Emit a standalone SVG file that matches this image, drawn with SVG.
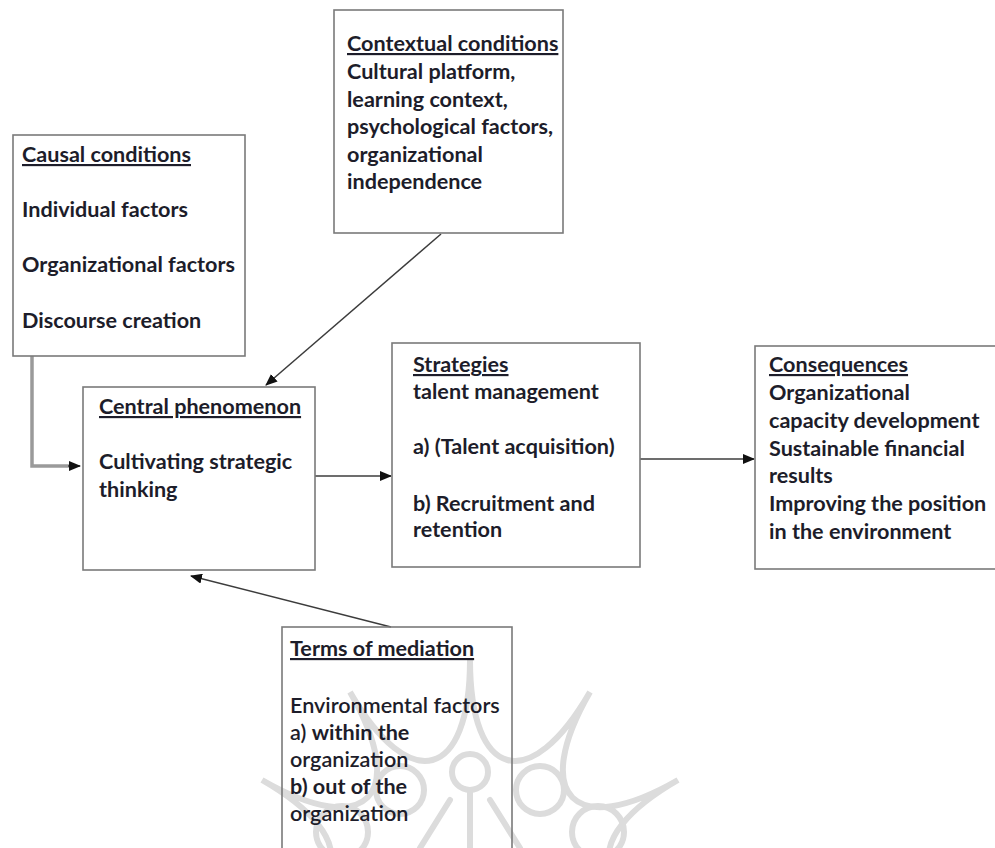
<svg xmlns="http://www.w3.org/2000/svg" width="995" height="848" viewBox="0 0 995 848">
<defs>
<style>
.box{fill:none;stroke:#7a7a7a;stroke-width:1.6}
.t{font-family:Lato,"Open Sans","Liberation Sans",sans-serif;font-size:21.6px;font-weight:bold;fill:#1d1d2a}
.n{font-weight:600}
.h{text-decoration:underline}
.c{fill:none;stroke:#3c3c3c;stroke-width:1.5}
.wm{fill:none;stroke:#dcdcdc;stroke-width:6;stroke-linecap:round}
</style>
<marker id="ah" markerWidth="12" markerHeight="10" refX="11" refY="5" orient="auto" markerUnits="userSpaceOnUse">
<path d="M0,0 L12,5 L0,10 Z" fill="#111"/>
</marker>
</defs>
<rect width="995" height="848" fill="#fff"/>
<g id="watermark">
<path class="wm" d="M230,900 C350,900 366,840 262,780 C366,840 410,796 350,692 C410,796 470,780 470,660 C470,780 530,796 590,692 C530,796 574,840 678,780 C574,840 590,900 710,900"/>
<circle class="wm" cx="470" cy="772" r="18"/>
<circle class="wm" cx="540" cy="790" r="24"/>
<circle class="wm" cx="400" cy="790" r="24"/>
<circle class="wm" cx="598" cy="832" r="26"/>
<circle class="wm" cx="342" cy="832" r="26"/>
<path class="wm" d="M470,790 L470,848 M490,800 L520,848 M450,800 L420,848"/>
</g>
<g id="connectors">
<path d="M32,356 V466 H70" fill="none" stroke="#9a9a9a" stroke-width="3.5"/>
<path class="c" d="M68,466 H80" marker-end="url(#ah)"/>
<path class="c" d="M441,234 L266,385" marker-end="url(#ah)"/>
<path class="c" d="M315,476 H391" marker-end="url(#ah)"/>
<path class="c" d="M640,459 H754" marker-end="url(#ah)"/>
<path class="c" d="M391,627 L191,576" marker-end="url(#ah)"/>
</g>
<g id="contextual">
<rect class="box" x="334" y="10" width="229" height="223"/>
<text class="t" x="347" y="51"><tspan class="h">Contextual conditions</tspan></text>
<text class="t" x="347" y="79">Cultural platform,</text>
<text class="t" x="347" y="107">learning context,</text>
<text class="t" x="347" y="134">psychological factors,</text>
<text class="t" x="347" y="162">organizational</text>
<text class="t" x="347" y="189">independence</text>
</g>
<g id="causal">
<rect class="box" x="13" y="135" width="232" height="221"/>
<text class="t" x="22" y="162"><tspan class="h">Causal conditions</tspan></text>
<text class="t" x="22" y="217">Individual factors</text>
<text class="t" x="22" y="272">Organizational factors</text>
<text class="t" x="22" y="328">Discourse creation</text>
</g>
<g id="central">
<rect class="box" x="83" y="387" width="232" height="183"/>
<text class="t" x="99" y="414"><tspan class="h">Central phenomenon</tspan></text>
<text class="t" x="99" y="469">Cultivating strategic</text>
<text class="t" x="99" y="497">thinking</text>
</g>
<g id="strategies">
<rect class="box" x="392" y="343" width="248" height="224"/>
<text class="t" x="413" y="372"><tspan class="h">Strategies</tspan></text>
<text class="t" x="413" y="399">talent management</text>
<text class="t" x="413" y="454">a) (Talent acquisition)</text>
<text class="t" x="413" y="511">b) Recruitment and</text>
<text class="t" x="413" y="537">retention</text>
</g>
<g id="consequences">
<rect class="box" x="755" y="346" width="260" height="223"/>
<text class="t" x="769" y="372"><tspan class="h">Consequences</tspan></text>
<text class="t" x="769" y="400">Organizational</text>
<text class="t" x="769" y="428">capacity development</text>
<text class="t" x="769" y="456">Sustainable financial</text>
<text class="t" x="769" y="483">results</text>
<text class="t" x="769" y="511">Improving the position</text>
<text class="t" x="769" y="539">in the environment</text>
</g>
<g id="mediation">
<rect class="box" x="282" y="627" width="230" height="240"/>
<text class="t" x="290" y="656"><tspan class="h">Terms of mediation</tspan></text>
<text class="t n" x="290" y="713">Environmental factors</text>
<text class="t n" x="290" y="740">a) <tspan font-weight="bold">within the</tspan></text>
<text class="t n" x="290" y="767">organization</text>
<text class="t" x="290" y="794">b) out of the</text>
<text class="t n" x="290" y="821">organization</text>
</g>
</svg>
